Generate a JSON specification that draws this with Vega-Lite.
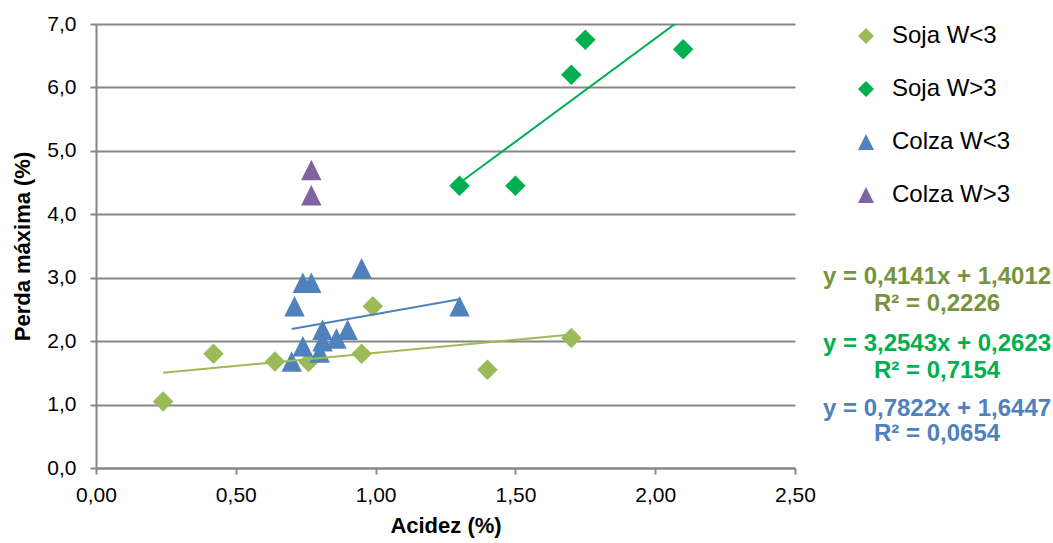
{
  "$schema": "https://vega.github.io/schema/vega-lite/v6.json",
  "width": 699,
  "height": 444,
  "autosize": {"type": "none"},
  "padding": {"left": 96, "top": 24, "right": 258, "bottom": 75},
  "background": "white",
  "config": {
    "view": {"stroke": null},
    "font": "Liberation Sans",
    "axis": {
      "domainColor": "#868686",
      "domainWidth": 2,
      "tickColor": "#868686",
      "tickWidth": 2,
      "tickSize": 6,
      "gridColor": "#868686",
      "gridWidth": 2,
      "labelFont": "Liberation Sans",
      "labelFontSize": 21,
      "labelColor": "#000000",
      "labelFlush": false,
      "titleFont": "Liberation Sans",
      "titleFontSize": 22,
      "titleFontWeight": "bold",
      "titleColor": "#000000"
    },
    "legend": {
      "labelFont": "Liberation Sans",
      "labelFontSize": 24,
      "labelColor": "#000000",
      "symbolSize": 256,
      "symbolStrokeWidth": 0,
      "rowPadding": 29,
      "labelOffset": 14,
      "padding": 0
    }
  },
  "datasets": {
    "pontos": [
      {"serie": "Soja W<3", "acidez": 0.24, "perda": 1.05},
      {"serie": "Soja W<3", "acidez": 0.42, "perda": 1.80},
      {"serie": "Soja W<3", "acidez": 0.64, "perda": 1.68},
      {"serie": "Soja W<3", "acidez": 0.76, "perda": 1.67},
      {"serie": "Soja W<3", "acidez": 0.95, "perda": 1.80},
      {"serie": "Soja W<3", "acidez": 0.99, "perda": 2.55},
      {"serie": "Soja W<3", "acidez": 1.40, "perda": 1.55},
      {"serie": "Soja W<3", "acidez": 1.70, "perda": 2.05},
      {"serie": "Soja W>3", "acidez": 1.30, "perda": 4.45},
      {"serie": "Soja W>3", "acidez": 1.50, "perda": 4.45},
      {"serie": "Soja W>3", "acidez": 1.70, "perda": 6.20},
      {"serie": "Soja W>3", "acidez": 1.75, "perda": 6.75},
      {"serie": "Soja W>3", "acidez": 2.10, "perda": 6.60},
      {"serie": "Colza W<3", "acidez": 0.95, "perda": 3.15},
      {"serie": "Colza W<3", "acidez": 0.74, "perda": 2.92},
      {"serie": "Colza W<3", "acidez": 0.77, "perda": 2.92},
      {"serie": "Colza W<3", "acidez": 0.71, "perda": 2.55},
      {"serie": "Colza W<3", "acidez": 0.81, "perda": 2.18},
      {"serie": "Colza W<3", "acidez": 0.81, "perda": 2.00},
      {"serie": "Colza W<3", "acidez": 0.86, "perda": 2.04},
      {"serie": "Colza W<3", "acidez": 0.90, "perda": 2.18},
      {"serie": "Colza W<3", "acidez": 0.74, "perda": 1.92},
      {"serie": "Colza W<3", "acidez": 0.80, "perda": 1.82},
      {"serie": "Colza W<3", "acidez": 0.70, "perda": 1.68},
      {"serie": "Colza W<3", "acidez": 1.30, "perda": 2.55},
      {"serie": "Colza W>3", "acidez": 0.77, "perda": 4.70},
      {"serie": "Colza W>3", "acidez": 0.77, "perda": 4.30}
    ],
    "tendencias": [
      {"serie": "Soja W<3", "acidez": 0.24, "perda": 1.5006},
      {"serie": "Soja W<3", "acidez": 1.70, "perda": 2.1052},
      {"serie": "Soja W>3", "acidez": 1.30, "perda": 4.4929},
      {"serie": "Soja W>3", "acidez": 2.10, "perda": 7.0963},
      {"serie": "Colza W<3", "acidez": 0.70, "perda": 2.1922},
      {"serie": "Colza W<3", "acidez": 1.30, "perda": 2.6616}
    ],
    "equacoes": [{"nota": "linhas de tendência"}]
  },
  "layer": [
    {
      "data": {"name": "pontos"},
      "mark": {"type": "point", "filled": true, "opacity": 1, "size": 420, "strokeWidth": 0},
      "encoding": {
        "x": {
          "field": "acidez",
          "type": "quantitative",
          "scale": {"domain": [0, 2.5], "nice": false, "zero": false},
          "axis": {
            "title": "Acidez (%)",
            "values": [0, 0.5, 1, 1.5, 2, 2.5],
            "labelExpr": "replace(format(datum.value, '.2f'), '.', ',')",
            "grid": false,
            "labelPadding": 10,
            "titlePadding": 10
          }
        },
        "y": {
          "field": "perda",
          "type": "quantitative",
          "scale": {"domain": [0, 7], "nice": false, "zero": false},
          "axis": {
            "title": "Perda máxima (%)",
            "values": [0, 1, 2, 3, 4, 5, 6, 7],
            "labelExpr": "replace(format(datum.value, '.1f'), '.', ',')",
            "grid": true,
            "labelPadding": 14,
            "titlePadding": 12
          }
        },
        "color": {
          "field": "serie",
          "type": "nominal",
          "scale": {
            "domain": ["Soja W<3", "Soja W>3", "Colza W<3", "Colza W>3"],
            "range": ["#9BBB59", "#00B050", "#4F81BD", "#8064A2"]
          },
          "legend": {"title": null, "orient": "none", "legendX": 758, "legendY": 0}
        },
        "shape": {
          "field": "serie",
          "type": "nominal",
          "scale": {
            "domain": ["Soja W<3", "Soja W>3", "Colza W<3", "Colza W>3"],
            "range": ["diamond", "diamond", "M0,-1L1,1L-1,1Z", "M0,-1L1,1L-1,1Z"]
          },
          "legend": {"title": null, "orient": "none", "legendX": 758, "legendY": 0}
        }
      }
    },
    {
      "data": {"name": "tendencias"},
      "mark": {"type": "line", "strokeWidth": 2, "clip": true},
      "encoding": {
        "x": {"field": "acidez", "type": "quantitative"},
        "y": {"field": "perda", "type": "quantitative"},
        "detail": {"field": "serie"},
        "stroke": {
          "field": "serie",
          "type": "nominal",
          "scale": {
            "domain": ["Soja W<3", "Soja W>3", "Colza W<3"],
            "range": ["#9BBB59", "#00B050", "#4F81BD"]
          },
          "legend": null
        }
      }
    },
    {
      "data": {"name": "equacoes"},
      "mark": {"type": "text", "text": "y = 0,4141x + 1,4012", "fontSize": 24, "fontWeight": "bold", "color": "#77933C", "align": "center", "baseline": "middle"},
      "encoding": {"x": {"datum": 3.008}, "y": {"datum": 3.011}}
    },
    {
      "data": {"name": "equacoes"},
      "mark": {"type": "text", "text": "R² = 0,2226", "fontSize": 24, "fontWeight": "bold", "color": "#77933C", "align": "center", "baseline": "middle"},
      "encoding": {"x": {"datum": 3.008}, "y": {"datum": 2.586}}
    },
    {
      "data": {"name": "equacoes"},
      "mark": {"type": "text", "text": "y = 3,2543x + 0,2623", "fontSize": 24, "fontWeight": "bold", "color": "#00B050", "align": "center", "baseline": "middle"},
      "encoding": {"x": {"datum": 3.008}, "y": {"datum": 1.955}}
    },
    {
      "data": {"name": "equacoes"},
      "mark": {"type": "text", "text": "R² = 0,7154", "fontSize": 24, "fontWeight": "bold", "color": "#00B050", "align": "center", "baseline": "middle"},
      "encoding": {"x": {"datum": 3.008}, "y": {"datum": 1.529}}
    },
    {
      "data": {"name": "equacoes"},
      "mark": {"type": "text", "text": "y = 0,7822x + 1,6447", "fontSize": 24, "fontWeight": "bold", "color": "#4F81BD", "align": "center", "baseline": "middle"},
      "encoding": {"x": {"datum": 3.008}, "y": {"datum": 0.930}}
    },
    {
      "data": {"name": "equacoes"},
      "mark": {"type": "text", "text": "R² = 0,0654", "fontSize": 24, "fontWeight": "bold", "color": "#4F81BD", "align": "center", "baseline": "middle"},
      "encoding": {"x": {"datum": 3.008}, "y": {"datum": 0.536}}
    }
  ]
}
